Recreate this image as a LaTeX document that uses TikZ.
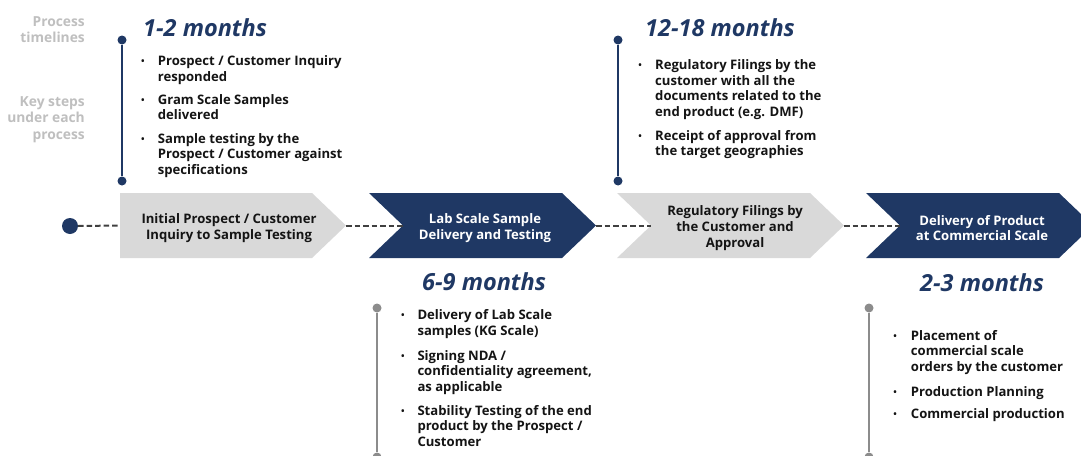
\documentclass[tikz,border=0pt]{standalone}
\usepackage{fontspec}
\setmainfont{Open Sans}
\definecolor{navy}{HTML}{1F3864}
\definecolor{chgray}{HTML}{D9D9D9}
\definecolor{lblgray}{HTML}{BFBFBF}
\definecolor{lngray}{HTML}{8C8C8C}
\definecolor{dashgray}{HTML}{404040}
\definecolor{txt}{HTML}{141414}
\newcommand{\itm}[1]{\parbox[t]{230pt}{\raggedright #1}}
\newcommand{\lbl}[1]{\parbox[t]{90pt}{\raggedleft #1}}
\begin{document}
\begin{tikzpicture}[x=1pt,y=-1pt,
  txtfont/.style={font=\fontsize{13.1}{15.7}\selectfont\bfseries},
  item/.style={txtfont, text=txt, inner sep=0pt, anchor=base west},
  bul/.style={font=\fontsize{12}{12}\selectfont, text=txt, inner sep=0pt, anchor=base},
  hdr/.style={font=\fontsize{23.5}{26}\selectfont\bfseries\itshape, text=navy, inner sep=0pt, anchor=base west},
  side/.style={font=\fontsize{13.8}{16.7}\selectfont\bfseries, text=lblgray, inner sep=0pt, anchor=base east},
  chtext/.style={txtfont, align=center, inner sep=0pt},
  dotn/.style={circle, fill=navy, inner sep=0pt, minimum size=9pt},
  dotg/.style={circle, fill=lngray, inner sep=0pt, minimum size=9pt},
  vnavy/.style={draw=navy, line width=2pt},
  vgray/.style={draw=lngray, line width=2pt},
  conn/.style={draw=dashgray, line width=2pt, dash pattern=on 5.5pt off 3pt},
]
\useasboundingbox (0,0) rectangle (1081,455);

% chevrons
\fill[chgray] (120,193) -- (312,193) -- (346,225.5) -- (312,258) -- (120,258) -- cycle;
\fill[navy] (369,193) -- (562,193) -- (596,225.5) -- (562,258) -- (369,258) -- (403,225.5) -- cycle;
\fill[chgray] (617,193) -- (810,193) -- (844,225.5) -- (810,258) -- (617,258) -- (651,225.5) -- cycle;
\fill[navy] (866,193) -- (1059,193) -- (1093,225.5) -- (1059,258) -- (866,258) -- (900,225.5) -- cycle;

\coordinate (c1in) at (120,225.5);
\coordinate (c1out) at (346,225.5);
\coordinate (c2in) at (403,225.5);
\coordinate (c2out) at (596,225.5);
\coordinate (c3in) at (651,225.5);
\coordinate (c3out) at (844,225.5);
\coordinate (c4in) at (900,225.5);

\node[chtext, text=txt] (ch1) at (229,228) {Initial Prospect / Customer\\Inquiry to Sample Testing};
\node[chtext, text=white] (ch2) at (485,228) {Lab Scale Sample\\Delivery and Testing};
\node[chtext, text=txt] (ch3) at (735,228) {Regulatory Filings by\\the Customer and\\Approval};
\node[chtext, text=white] (ch4) at (982,228) {Delivery of Product\\at Commercial Scale};

% start dot and dashed connectors
\node[circle, fill=navy, inner sep=0pt, minimum size=16pt] (start) at (70,226) {};
\draw[conn] (start.east) -- (c1in);
\draw[conn] (c1out) -- (c2in);
\draw[conn] (c2out) -- (c3in);
\draw[conn] (c3out) -- (c4in);

% vertical markers
\node[dotn] (v1a) at (122,40) {};
\node[dotn] (v1b) at (122,181) {};
\draw[vnavy] (v1a) -- (v1b);
\node[dotn] (v3a) at (618,40) {};
\node[dotn] (v3b) at (618,181) {};
\draw[vnavy] (v3a) -- (v3b);
\node[dotg] (v2a) at (377,308) {};
\node[dotg] (v2b) at (377,457) {};
\draw[vgray] (v2a) -- (v2b);
\node[dotg] (v4a) at (869,308) {};
\node[dotg] (v4b) at (869,457) {};
\draw[vgray] (v4a) -- (v4b);

% side labels
\node[side] (pt) at (85,26) {\lbl{Process\\timelines}};
\node[side] (ks) at (85,106) {\lbl{Key steps\\under each\\process}};

% headers
\node[hdr] (h1) at (143,36) {1-2 months};
\node[hdr] (h3) at (645,36) {12-18 months};
\node[hdr] (h2) at (422,290.7) {6-9 months};
\node[hdr] (h4) at (920,291) {2-3 months};

% block 1
\node[bul] (b11) at (143,65.7) {•};
\node[item] (i11) at (157.7,65.7) {\itm{Prospect / Customer Inquiry\\responded}};
\node[bul] (b12) at (143,104) {•};
\node[item] (i12) at (157.7,104) {\itm{Gram Scale Samples\\delivered}};
\node[bul] (b13) at (143,143) {•};
\node[item] (i13) at (157.7,143) {\itm{Sample testing by the\\Prospect / Customer against\\specifications}};

% block 3
\node[bul] (b31) at (640,69.3) {•};
\node[item] (i31) at (655,69.3) {\itm{Regulatory Filings by the\\customer with all the\\documents related to the\\end product (e.g. DMF)}};
\node[bul] (b32) at (640,140) {•};
\node[item] (i32) at (655,140) {\itm{Receipt of approval from\\the target geographies}};

% block 2
\node[bul] (b21) at (403,319.3) {•};
\node[item] (i21) at (417.3,319.3) {\itm{Delivery of Lab Scale\\samples (KG Scale)}};
\node[bul] (b22) at (403,360) {•};
\node[item] (i22) at (417.3,360) {\itm{Signing NDA /\\confidentiality agreement,\\as applicable}};
\node[bul] (b23) at (403,415) {•};
\node[item] (i23) at (417.3,415) {\itm{Stability Testing of the end\\product by the Prospect /\\Customer}};

% block 4
\node[bul] (b41) at (895,340) {•};
\node[item] (i41) at (910.7,340) {\itm{Placement of\\commercial scale\\orders by the customer}};
\node[bul] (b42) at (895,396.7) {•};
\node[item] (i42) at (910.7,396.7) {\itm{Production Planning}};
\node[bul] (b43) at (895,418.3) {•};
\node[item] (i43) at (910.7,418.3) {\itm{Commercial production}};
\end{tikzpicture}
\end{document}
